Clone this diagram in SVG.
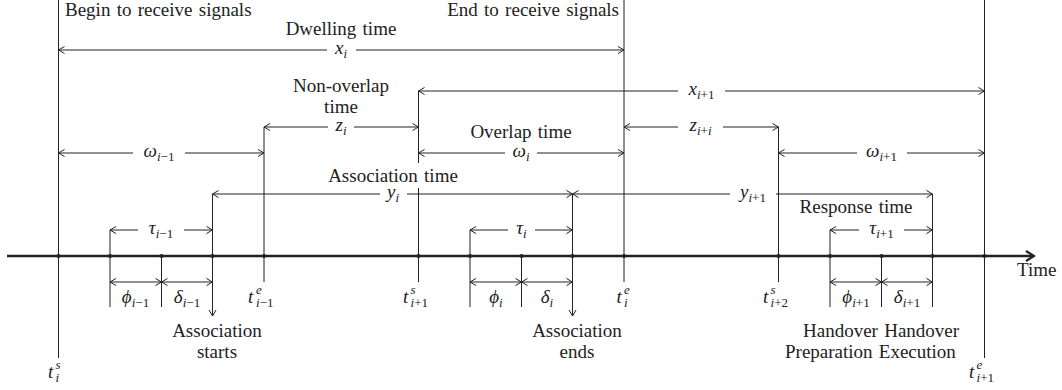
<svg xmlns="http://www.w3.org/2000/svg" width="1062" height="390" viewBox="0 0 1062 390">
<defs>
<style>
text{font-family:"Liberation Serif","DejaVu Serif",serif;font-size:19px;fill:#222;word-spacing:1.5px}
.m{font-style:italic}
.s{font-size:13px;font-style:italic}
.u{font-size:13px;font-style:normal}
.c{text-anchor:middle}
.ln{stroke:#222;stroke-width:1;fill:none}
.ar{stroke:#222;stroke-width:1;fill:none;marker-end:url(#a)}
.ar2{stroke:#222;stroke-width:1;fill:none;marker-end:url(#a);marker-start:url(#a)}
</style>
<marker id="a" viewBox="-8 -5 9 10" refX="0" refY="0" markerWidth="9" markerHeight="10" markerUnits="userSpaceOnUse" orient="auto-start-reverse">
<path d="M-6,-3.5 L0,0 L-6,3.5" fill="none" stroke="#222" stroke-width="1"/>
</marker>
<marker id="big" viewBox="-10 -7 12 14" refX="0" refY="0" markerWidth="12" markerHeight="14" markerUnits="userSpaceOnUse" orient="auto">
<path d="M-8,-5 L0,0 L-8,5" fill="none" stroke="#222" stroke-width="2.2"/>
</marker>
</defs>
<rect width="1062" height="390" fill="#fff"/>

<g id="connectors">
<line x1="7" y1="256" x2="1034" y2="256" stroke="#222" stroke-width="2.5" marker-end="url(#big)"/>
<line class="ln" x1="58.5" y1="0" x2="58.5" y2="358"/>
<line class="ln" x1="624" y1="0" x2="624" y2="282"/>
<line class="ln" x1="984.5" y1="0" x2="984.5" y2="358"/>
<line class="ln" x1="264" y1="127" x2="264" y2="282"/>
<line class="ln" x1="418.5" y1="91" x2="418.5" y2="163"/>
<line class="ln" x1="418.5" y1="188" x2="418.5" y2="282"/>
<line class="ln" x1="778.5" y1="127" x2="778.5" y2="282"/>
<line class="ar" x1="212.5" y1="194" x2="212.5" y2="316"/>
<line class="ar" x1="572.5" y1="194" x2="572.5" y2="316"/>
<line class="ln" x1="932.5" y1="194" x2="932.5" y2="307"/>
<line class="ln" x1="110" y1="230" x2="110" y2="307"/>
<line class="ln" x1="161.5" y1="256" x2="161.5" y2="307"/>
<line class="ln" x1="470" y1="230" x2="470" y2="307"/>
<line class="ln" x1="521.5" y1="256" x2="521.5" y2="307"/>
<line class="ln" x1="830" y1="230" x2="830" y2="307"/>
<line class="ln" x1="881.5" y1="256" x2="881.5" y2="307"/>
<line class="ar" x1="327" y1="50" x2="58.5" y2="50"/>
<line class="ar" x1="356" y1="50" x2="624" y2="50"/>
<line class="ar" x1="678" y1="91" x2="418.5" y2="91"/>
<line class="ar" x1="725" y1="91" x2="984.5" y2="91"/>
<line class="ar" x1="328" y1="127" x2="264" y2="127"/>
<line class="ar" x1="354" y1="127" x2="418.5" y2="127"/>
<line class="ar" x1="678" y1="127" x2="624" y2="127"/>
<line class="ar" x1="723" y1="127" x2="778.5" y2="127"/>
<line class="ar" x1="133" y1="153" x2="58.5" y2="153"/>
<line class="ar" x1="185" y1="153" x2="264" y2="153"/>
<line class="ar" x1="505" y1="153" x2="418.5" y2="153"/>
<line class="ar" x1="537" y1="153" x2="624" y2="153"/>
<line class="ar" x1="857" y1="153" x2="778.5" y2="153"/>
<line class="ar" x1="907" y1="153" x2="984.5" y2="153"/>
<line class="ar" x1="380" y1="194" x2="212.5" y2="194"/>
<line class="ar" x1="407" y1="194" x2="572.5" y2="194"/>
<line class="ar" x1="730" y1="194" x2="572.5" y2="194"/>
<line class="ar" x1="776" y1="194" x2="932.5" y2="194"/>
<line class="ar" x1="138" y1="230" x2="110" y2="230"/>
<line class="ar" x1="184" y1="230" x2="212.5" y2="230"/>
<line class="ar" x1="508" y1="230" x2="470" y2="230"/>
<line class="ar" x1="535" y1="230" x2="572.5" y2="230"/>
<line class="ar" x1="859" y1="230" x2="830" y2="230"/>
<line class="ar" x1="904" y1="230" x2="932.5" y2="230"/>
<line class="ar2" x1="110" y1="282" x2="161.5" y2="282"/>
<line class="ar2" x1="161.5" y1="282" x2="212.5" y2="282"/>
<line class="ar2" x1="470" y1="282" x2="521.5" y2="282"/>
<line class="ar2" x1="521.5" y1="282" x2="572.5" y2="282"/>
<line class="ar2" x1="830" y1="282" x2="881.5" y2="282"/>
<line class="ar2" x1="881.5" y1="282" x2="932.5" y2="282"/>
</g>

<g id="axis-points" fill="#222">
<circle cx="58.5" cy="256" r="2"/><circle cx="110" cy="256" r="2"/><circle cx="161.5" cy="256" r="2"/>
<circle cx="212.5" cy="256" r="2"/><circle cx="264" cy="256" r="2"/><circle cx="418.5" cy="256" r="2"/>
<circle cx="470" cy="256" r="2"/><circle cx="521.5" cy="256" r="2"/><circle cx="572.5" cy="256" r="2"/>
<circle cx="624" cy="256" r="2"/><circle cx="778.5" cy="256" r="2"/><circle cx="830" cy="256" r="2"/>
<circle cx="881.5" cy="256" r="2"/><circle cx="932.5" cy="256" r="2"/><circle cx="984.5" cy="256" r="2"/>
</g>

<g id="begin-label"><text x="65" y="16">Begin to receive signals</text></g>
<g id="end-label"><text x="619" y="16" text-anchor="end">End to receive signals</text></g>
<g id="dwelling-label"><text class="c" x="341" y="35">Dwelling time</text></g>
<g id="x-i"><text class="m c" x="341" y="54">x<tspan class="s" dy="4">i</tspan></text></g>
<g id="nonoverlap-label"><text class="c" x="341" y="92">Non-overlap</text><text class="c" x="341" y="113">time</text></g>
<g id="x-i1"><text class="m c" x="701.5" y="95">x<tspan class="s" dy="4">i</tspan><tspan class="u">+1</tspan></text></g>
<g id="z-i"><text class="m c" x="341" y="131">z<tspan class="s" dy="4">i</tspan></text></g>
<g id="z-ii"><text class="m c" x="700.5" y="131">z<tspan class="s" dy="4">i</tspan><tspan class="u">+</tspan><tspan class="s">i</tspan></text></g>
<g id="overlap-label"><text class="c" x="521" y="138">Overlap time</text></g>
<g id="w-im1"><text class="m c" x="159" y="157">ω<tspan class="s" dy="4">i</tspan><tspan class="u">−1</tspan></text></g>
<g id="w-i"><text class="m c" x="521" y="157">ω<tspan class="s" dy="4">i</tspan></text></g>
<g id="w-i1"><text class="m c" x="881.5" y="157">ω<tspan class="s" dy="4">i</tspan><tspan class="u">+1</tspan></text></g>
<g id="association-time-label"><text class="c" x="393" y="182">Association time</text></g>
<g id="y-i"><text class="m c" x="393" y="198">y<tspan class="s" dy="4">i</tspan></text></g>
<g id="y-i1"><text class="m c" x="753" y="198">y<tspan class="s" dy="4">i</tspan><tspan class="u">+1</tspan></text></g>
<g id="response-label"><text class="c" x="856" y="213">Response time</text></g>
<g id="tau-im1"><text class="m c" x="161" y="234">τ<tspan class="s" dy="4">i</tspan><tspan class="u">−1</tspan></text></g>
<g id="tau-i"><text class="m c" x="521.5" y="234">τ<tspan class="s" dy="4">i</tspan></text></g>
<g id="tau-i1"><text class="m c" x="881.5" y="234">τ<tspan class="s" dy="4">i</tspan><tspan class="u">+1</tspan></text></g>
<g id="phi-im1"><text class="m c" x="135.5" y="303">ϕ<tspan class="s" dy="4">i</tspan><tspan class="u">−1</tspan></text></g>
<g id="delta-im1"><text class="m c" x="187" y="303">δ<tspan class="s" dy="4">i</tspan><tspan class="u">−1</tspan></text></g>
<g id="phi-i"><text class="m c" x="496" y="303">ϕ<tspan class="s" dy="4">i</tspan></text></g>
<g id="delta-i"><text class="m c" x="547" y="303">δ<tspan class="s" dy="4">i</tspan></text></g>
<g id="phi-i1"><text class="m c" x="856" y="303">ϕ<tspan class="s" dy="4">i</tspan><tspan class="u">+1</tspan></text></g>
<g id="delta-i1"><text class="m c" x="907" y="303">δ<tspan class="s" dy="4">i</tspan><tspan class="u">+1</tspan></text></g>
<g id="t-e-im1"><text class="m" x="248" y="303">t<tspan class="s" x="256" dy="-9">e</tspan><tspan class="s" x="256" dy="13">i</tspan><tspan class="u">−1</tspan></text></g>
<g id="t-s-i1"><text class="m" x="403" y="303">t<tspan class="s" x="410.5" dy="-9">s</tspan><tspan class="s" x="410.5" dy="13">i</tspan><tspan class="u">+1</tspan></text></g>
<g id="t-e-i"><text class="m" x="616.5" y="303">t<tspan class="s" x="624" dy="-9">e</tspan><tspan class="s" x="624" dy="13">i</tspan></text></g>
<g id="t-s-i2"><text class="m" x="763" y="303">t<tspan class="s" x="770.5" dy="-9">s</tspan><tspan class="s" x="770.5" dy="13">i</tspan><tspan class="u">+2</tspan></text></g>
<g id="t-s-i"><text class="m" x="48" y="378">t<tspan class="s" x="55.5" dy="-9">s</tspan><tspan class="s" x="55.5" dy="13">i</tspan></text></g>
<g id="t-e-i1"><text class="m" x="969" y="378">t<tspan class="s" x="976.5" dy="-9">e</tspan><tspan class="s" x="976.5" dy="13">i</tspan><tspan class="u">+1</tspan></text></g>
<g id="association-starts"><text class="c" x="217" y="337">Association</text><text class="c" x="217" y="358">starts</text></g>
<g id="association-ends"><text class="c" x="577" y="337">Association</text><text class="c" x="577" y="358">ends</text></g>
<g id="handover-labels"><text x="803" y="337">Handover Handover</text><text x="785" y="358">Preparation Execution</text></g>
<g id="time-label"><text x="1017" y="276">Time</text></g>
</svg>
